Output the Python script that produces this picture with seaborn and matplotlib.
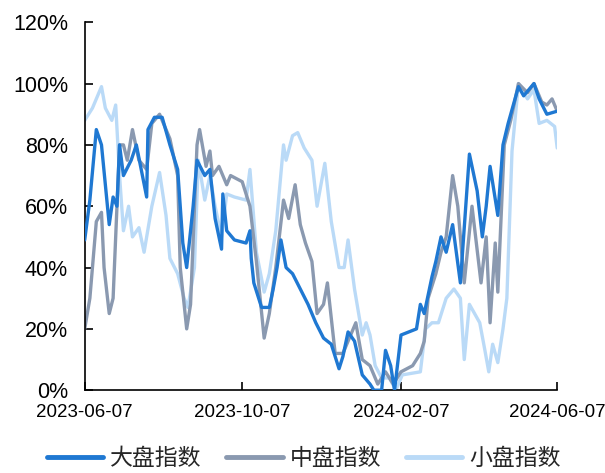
import seaborn as sns
import pandas as pd
import numpy as np
import matplotlib.pyplot as plt
import matplotlib.dates as mdates
from matplotlib.ticker import PercentFormatter

# 大盘指数
big_dates = ["2023-06-07", "2023-06-11", "2023-06-16", "2023-06-20", "2023-06-26", "2023-06-29",
             "2023-07-02", "2023-07-04", "2023-07-07", "2023-07-13", "2023-07-17", "2023-07-25",
             "2023-07-26", "2023-07-31", "2023-08-06", "2023-08-12", "2023-08-18", "2023-08-22",
             "2023-08-25", "2023-08-30", "2023-09-02", "2023-09-08", "2023-09-12", "2023-09-16",
             "2023-09-21", "2023-09-22", "2023-09-25", "2023-10-01", "2023-10-10", "2023-10-13",
             "2023-10-14", "2023-10-16", "2023-10-22", "2023-10-28", "2023-10-31", "2023-11-03",
             "2023-11-06", "2023-11-10", "2023-11-15", "2023-11-21", "2023-11-27", "2023-12-03",
             "2023-12-09", "2023-12-15", "2023-12-21", "2023-12-24", "2023-12-28", "2024-01-02",
             "2024-01-08", "2024-01-14", "2024-01-17", "2024-01-23", "2024-01-26", "2024-01-30",
             "2024-02-02", "2024-02-07", "2024-02-19", "2024-02-22", "2024-02-25", "2024-03-02",
             "2024-03-05", "2024-03-09", "2024-03-13", "2024-03-18", "2024-03-24", "2024-03-31",
             "2024-04-06", "2024-04-10", "2024-04-13", "2024-04-16", "2024-04-22", "2024-04-26",
             "2024-04-30", "2024-05-08", "2024-05-12", "2024-05-20", "2024-05-24", "2024-05-30",
             "2024-06-07"]
big_vals = [49, 62, 85, 80, 54, 63, 60, 80, 70, 75, 80, 63, 85, 89, 89, 80, 72, 48, 40, 60,
            75, 70, 72, 56, 46, 64, 52, 49, 48, 52, 43, 35, 27, 27, 33, 40, 49, 40, 38, 33,
            28, 22, 17, 15, 7, 11, 19, 16, 5, 2, 0, 0, 13, 8, 0, 18, 20, 28, 25, 37,
            42, 50, 45, 54, 35, 77, 65, 50, 60, 73, 57, 80, 87, 99, 96, 100, 95, 90, 91]

# 中盘指数
mid_dates = ["2023-06-07", "2023-06-11", "2023-06-16", "2023-06-20", "2023-06-22", "2023-06-26",
             "2023-06-29", "2023-07-04", "2023-07-07", "2023-07-10", "2023-07-14", "2023-07-19",
             "2023-07-25", "2023-07-29", "2023-08-04", "2023-08-12", "2023-08-18", "2023-08-20",
             "2023-08-25", "2023-08-28", "2023-09-02", "2023-09-04", "2023-09-09", "2023-09-12",
             "2023-09-14", "2023-09-19", "2023-09-25", "2023-09-28", "2023-10-07", "2023-10-13",
             "2023-10-18", "2023-10-24", "2023-10-28", "2023-11-02", "2023-11-08", "2023-11-12",
             "2023-11-17", "2023-11-21", "2023-11-25", "2023-11-30", "2023-12-04", "2023-12-09",
             "2023-12-12", "2023-12-18", "2023-12-24", "2023-12-30", "2024-01-03", "2024-01-08",
             "2024-01-14", "2024-01-20", "2024-01-26", "2024-02-01", "2024-02-07", "2024-02-16",
             "2024-02-22", "2024-02-25", "2024-02-28", "2024-03-05", "2024-03-09", "2024-03-13",
             "2024-03-18", "2024-03-22", "2024-03-27", "2024-04-02", "2024-04-09", "2024-04-13",
             "2024-04-16", "2024-04-20", "2024-04-22", "2024-04-27", "2024-05-02", "2024-05-08",
             "2024-05-15", "2024-05-20", "2024-05-26", "2024-05-30", "2024-06-03", "2024-06-07"]
mid_vals = [20, 30, 55, 58, 40, 25, 30, 80, 80, 75, 85, 75, 72, 87, 90, 82, 70, 40, 20, 28,
            80, 85, 73, 78, 70, 73, 67, 70, 68, 60, 42, 17, 25, 40, 62, 56, 67, 54, 48, 42,
            25, 28, 35, 12, 12, 18, 22, 10, 8, 2, 6, 2, 6, 8, 12, 16, 30, 38, 45, 50,
            70, 60, 35, 60, 35, 50, 22, 48, 32, 80, 88, 100, 97, 100, 94, 93, 95, 91]

# 小盘指数
small_dates = ["2023-06-07", "2023-06-13", "2023-06-20", "2023-06-23", "2023-06-28", "2023-07-01",
               "2023-07-04", "2023-07-07", "2023-07-11", "2023-07-14", "2023-07-19", "2023-07-23",
               "2023-07-29", "2023-08-04", "2023-08-09", "2023-08-12", "2023-08-18", "2023-08-23",
               "2023-08-26", "2023-08-31", "2023-09-03", "2023-09-08", "2023-09-12", "2023-09-16",
               "2023-09-21", "2023-09-25", "2023-10-01", "2023-10-10", "2023-10-13", "2023-10-18",
               "2023-10-24", "2023-10-28", "2023-11-02", "2023-11-08", "2023-11-10", "2023-11-15",
               "2023-11-19", "2023-11-24", "2023-11-30", "2023-12-04", "2023-12-10", "2023-12-15",
               "2023-12-21", "2023-12-25", "2023-12-28", "2024-01-02", "2024-01-08", "2024-01-11",
               "2024-01-14", "2024-01-18", "2024-01-23", "2024-01-29", "2024-02-03", "2024-02-08",
               "2024-02-22", "2024-02-26", "2024-03-02", "2024-03-07", "2024-03-13", "2024-03-19",
               "2024-03-24", "2024-03-27", "2024-03-31", "2024-04-08", "2024-04-12", "2024-04-15",
               "2024-04-18", "2024-04-22", "2024-04-26", "2024-04-29", "2024-05-03", "2024-05-08",
               "2024-05-15", "2024-05-20", "2024-05-24", "2024-05-30", "2024-06-05", "2024-06-07"]
small_vals = [88, 92, 99, 92, 88, 93, 70, 52, 60, 50, 53, 45, 60, 71, 57, 43, 38, 30, 27, 40,
              75, 62, 70, 60, 50, 64, 63, 62, 72, 45, 32, 38, 52, 80, 75, 83, 84, 79, 75, 60,
              74, 55, 40, 40, 49, 33, 18, 22, 18, 8, 4, 4, 0, 5, 6, 20, 22, 22, 30, 33,
              30, 10, 28, 22, 13, 6, 15, 9, 20, 30, 78, 100, 95, 98, 87, 88, 86, 79]

series_names = ["大盘指数", "中盘指数", "小盘指数"]
colors = ["#1f78d2", "#8a99b0", "#badaf7"]
xtick_dates = ["2023-06-07", "2023-10-07", "2024-02-07", "2024-06-07"]

frames = []
for name, d, v in zip(series_names, [big_dates, mid_dates, small_dates], [big_vals, mid_vals, small_vals]):
    frames.append(pd.DataFrame({"date": pd.to_datetime(d), "value": np.array(v) / 100.0, "series": name}))
df = pd.concat(frames, ignore_index=True)

sns.set_style("ticks")
plt.rcParams['font.family'] = ['Liberation Sans', 'Noto Sans CJK SC', 'DejaVu Sans']

fig = plt.figure(figsize=(6.05, 4.73), dpi=100)
ax = fig.add_axes([0.14, 0.175, 0.781, 0.778])

sns.lineplot(data=df, x="date", y="value", hue="series", hue_order=series_names,
             palette=colors, linewidth=2.4, ax=ax, legend=False)
# dark line on top, light one underneath
for ln, z in zip(ax.get_lines(), [3, 2, 1]):
    ln.set_zorder(z)

ax.set_xlim(pd.Timestamp("2023-06-07"), pd.Timestamp("2024-06-07"))
ax.set_ylim(0, 1.2)
ax.set_yticks(np.arange(0, 1.21, 0.2))
ax.yaxis.set_major_formatter(PercentFormatter(1.0, decimals=0))
ax.set_xticks(pd.to_datetime(xtick_dates))
ax.xaxis.set_major_formatter(mdates.DateFormatter("%Y-%m-%d"))
ax.set_xlabel("")
ax.set_ylabel("")
ax.tick_params(axis="both", direction="in", length=6, width=1.2, labelsize=13.5, colors="black")
ax.tick_params(axis="x", pad=10)
ax.tick_params(axis="y", labelsize=15.5, pad=12)
for s in ["top", "right"]:
    ax.spines[s].set_visible(False)
for s in ["left", "bottom"]:
    ax.spines[s].set_linewidth(1.2)
    ax.spines[s].set_color("black")

handles = [plt.Line2D([], [], color=c, linewidth=3.5) for c in colors]
leg = fig.legend(handles, series_names, loc="center", bbox_to_anchor=(0.502, 0.03), ncol=3,
                 frameon=False, handlelength=2.45, columnspacing=1.1, handletextpad=0.3,
                 borderpad=0.2, prop={"family": ["Noto Sans CJK SC"], "size": 16.5})

fig.savefig("out.png", dpi=100)
